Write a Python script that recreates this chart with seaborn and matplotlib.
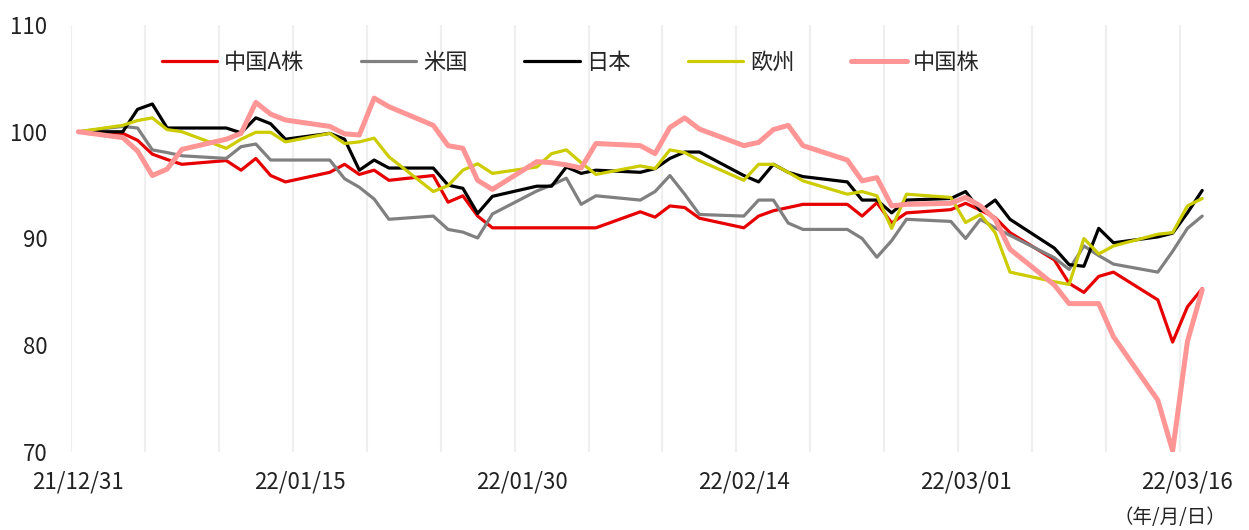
import seaborn as sns
import matplotlib.pyplot as plt
import pandas as pd

# 営業日ベース（21/12/31 = 100 で指数化）
dates = pd.bdate_range("2021-12-31", "2022-03-17")

china_a = [100.0, 99.85, 99.2, 97.9, 97.4, 96.95, 97.3, 96.4, 97.5, 95.9, 95.3,
           96.2, 96.95, 96.0, 96.4, 95.45, 95.9, 93.4, 94.0, 92.1, 91.0,
           91.0, 91.0, 91.0, 91.0, 91.0, 92.5, 92.0, 93.05, 92.9, 91.9,
           91.0, 92.1, 92.6, 92.9, 93.2, 93.2, 92.1, 93.35, 91.45, 92.4,
           92.7, 93.3, 92.65, 91.95, 90.55, 88.0, 85.8, 84.95, 86.45, 86.85,
           84.25, 80.3, 83.6, 85.3]
usa = [100.0, 100.5, 100.35, 98.3, 98.05, 97.75, 97.5, 98.6, 98.85, 97.35, 97.35,
       97.35, 95.6, 94.8, 93.7, 91.8, 92.1, 90.85, 90.6, 90.05, 92.3,
       94.45, 95.0, 95.65, 93.2, 94.0, 93.6, 94.4, 95.9, 94.15, 92.25,
       92.1, 93.6, 93.6, 91.45, 90.85, 90.85, 90.0, 88.25, 89.8, 91.8,
       91.6, 90.0, 91.8, 91.0, 90.3, 88.2, 87.1, 89.3, 88.4, 87.6,
       86.85, 88.8, 90.95, 92.1]
japan = [100.0, 100.0, 102.1, 102.6, 100.35, 100.35, 100.35, 99.9, 101.3, 100.75, 99.3,
         99.85, 99.3, 96.4, 97.35, 96.6, 96.6, 95.0, 94.7, 92.35, 93.95,
         94.9, 94.9, 96.7, 96.1, 96.4, 96.2, 96.55, 97.5, 98.1, 98.1,
         95.9, 95.3, 96.95, 96.2, 95.8, 95.3, 93.6, 93.6, 92.4, 93.6,
         93.75, 94.4, 92.6, 93.6, 91.8, 89.1, 87.55, 87.4, 90.95, 89.6,
         90.15, 90.5, 92.4, 94.5]
europe = [100.0, 100.6, 101.05, 101.3, 100.2, 100.0, 98.45, 99.3, 99.95, 99.95, 99.05,
          99.85, 98.9, 99.05, 99.4, 97.65, 94.4, 94.95, 96.4, 97.0, 96.1,
          96.7, 97.95, 98.3, 97.1, 96.0, 96.8, 96.55, 98.3, 98.05, 97.3,
          95.45, 96.95, 96.95, 96.2, 95.4, 94.15, 94.4, 94.0, 90.95, 94.15,
          93.85, 91.5, 92.25, 90.55, 86.85, 85.95, 85.7, 90.0, 88.55, 89.3,
          90.4, 90.55, 93.05, 93.75]
china_hk = [100.0, 99.45, 98.2, 95.9, 96.5, 98.35, 99.3, 99.85, 102.75, 101.65, 101.1,
            100.5, 99.8, 99.7, 103.15, 102.35, 100.6, 98.7, 98.45, 95.45, 94.6,
            97.2, 97.1, 96.9, 96.6, 98.9, 98.7, 97.95, 100.4, 101.3, 100.25,
            98.7, 99.0, 100.2, 100.6, 98.7, 97.35, 95.4, 95.7, 93.05, 93.2,
            93.3, 93.85, 93.05, 91.8, 89.0, 85.65, 83.9, 83.9, 83.9, 80.8,
            74.85, 70.1, 80.35, 85.2]

series_names = ["中国A株", "米国", "日本", "欧州", "中国株"]
series_vals = [china_a, usa, japan, europe, china_hk]
colors = ["#E60000", "#808080", "#000000", "#CCCC00", "#FF9595"]
widths = [2.3, 2.3, 2.3, 2.3, 3.6]

yticks = [70, 80, 90, 100, 110]
label_dates = pd.date_range("2021-12-31", periods=6, freq="15D")
grid_dates = pd.date_range("2021-12-31", periods=16, freq="5D")

sns.set_theme(style="white")
plt.rcParams["font.family"] = ["Noto Sans CJK JP", "DejaVu Sans"]

W, H = 1249, 530
fig = plt.figure(figsize=(W / 100, H / 100), dpi=100)
ax = fig.add_axes([71 / W, 1 - 452 / H, (1209.6 - 71) / W, 427 / H])

half_day = pd.Timedelta(hours=12)  # Excelの日付軸は日の中央にプロット
for name, vals, c, lw in zip(series_names, series_vals, colors, widths):
    sns.lineplot(x=dates + half_day, y=vals, color=c, lw=lw, label=name, ax=ax)

ax.set_ylim(70, 110)
ax.set_xlim(pd.Timestamp("2021-12-31"), pd.Timestamp("2022-03-18"))
ax.set_yticks(yticks)
ax.set_yticklabels([str(v) for v in yticks], fontsize=16, color="#222222")
ax.set_xticks(label_dates + half_day)
ax.set_xticklabels([d.strftime("%y/%m/%d") for d in label_dates], fontsize=16, color="#222222")
ax.set_xticks(grid_dates, minor=True)
ax.grid(False)
ax.grid(which="minor", axis="x", color="#EFEFEF", lw=1.6)
ax.tick_params(which="both", length=0)
ax.tick_params(axis="y", pad=17)
ax.tick_params(axis="x", pad=13)
for s in ax.spines.values():
    s.set_visible(False)
ax.set_xlabel("")
ax.set_ylabel("")

ax.legend(ncol=5, loc="center", bbox_to_anchor=(0.439, 0.913), frameon=False,
          fontsize=16, handlelength=2.5, handletextpad=0.3, columnspacing=2.55)

fig.text(1170 / W, 2 / H, "（年/月/日）", ha="center", va="bottom",
         fontsize=14, color="#222222")

fig.savefig("out.png", dpi=100)
